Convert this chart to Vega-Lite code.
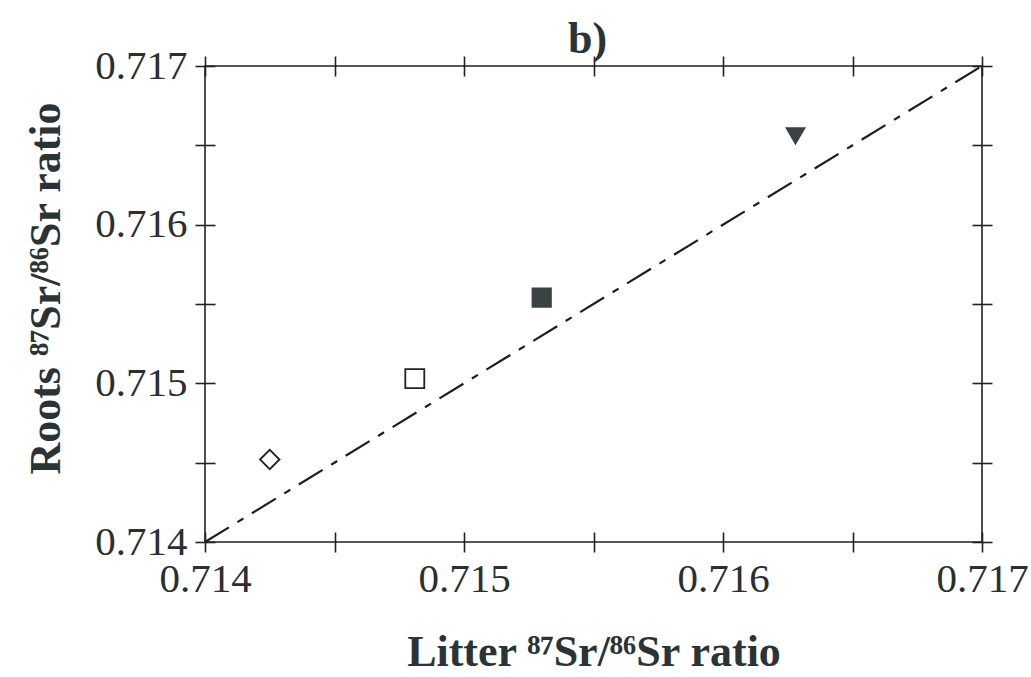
{
  "$schema": "https://vega.github.io/schema/vega-lite/v6.json",
  "width": 777,
  "height": 476,
  "autosize": {"type": "none"},
  "padding": {"left": 205, "top": 66, "right": 49, "bottom": 135},
  "background": "white",
  "title": {"text": "b)", "font": "Liberation Serif", "fontSize": 44, "fontWeight": "bold", "color": "#2a3436", "anchor": "middle", "offset": -17, "dx": -6},
  "config": {
    "view": {"stroke": "#222", "strokeWidth": 1.6},
    "axis": {"domain": false, "grid": false, "tickColor": "#222", "tickWidth": 1.6, "tickSize": 20, "offset": -10,
      "labelFont": "Liberation Serif", "labelFontSize": 41, "labelColor": "#2a2f30",
      "titleFont": "Liberation Serif", "titleFontSize": 44, "titleFontWeight": "bold", "titleColor": "#2a3436"}
  },
  "datasets": {
    "pts": [
      {"sample": "A", "litter": 0.71425, "roots": 0.71452},
      {"sample": "B", "litter": 0.71481, "roots": 0.71503},
      {"sample": "C", "litter": 0.71530, "roots": 0.71554},
      {"sample": "D", "litter": 0.71628, "roots": 0.71656}
    ],
    "oneone": [
      {"litter": 0.714, "roots": 0.714},
      {"litter": 0.717, "roots": 0.717}
    ]
  },
  "layer": [
    {
      "data": {"name": "pts"},
      "mark": {"type": "point", "strokeWidth": 1.8, "opacity": 1, "filled": false},
      "encoding": {
        "x": {"field": "litter", "type": "quantitative", "scale": {"domain": [0.714, 0.717], "nice": false, "zero": false},
          "axis": {"orient": "bottom", "values": [0.714, 0.7145, 0.715, 0.7155, 0.716, 0.7165, 0.717],
            "labelExpr": "round(datum.value*2000) % 2 == 0 ? format(datum.value, '.3f') : ''",
            "labelPadding": 7, "labelFlush": false, "title": "Litter ⁸⁷Sr/⁸⁶Sr ratio", "titlePadding": 31}},
        "y": {"field": "roots", "type": "quantitative", "scale": {"domain": [0.714, 0.717], "nice": false, "zero": false},
          "axis": {"orient": "left", "values": [0.714, 0.7145, 0.715, 0.7155, 0.716, 0.7165, 0.717],
            "labelExpr": "round(datum.value*2000) % 2 == 0 ? format(datum.value, '.3f') : ''",
            "labelPadding": 8, "labelFlush": false, "title": "Roots ⁸⁷Sr/⁸⁶Sr ratio", "titlePadding": 26, "titleY": 222}},
        "shape": {"field": "sample", "type": "nominal", "legend": null,
          "scale": {"domain": ["A", "B", "C", "D"], "range": ["diamond", "square", "square", "triangle-down"]}},
        "fill": {"field": "sample", "type": "nominal", "legend": null,
          "scale": {"domain": ["A", "B", "C", "D"], "range": ["white", "white", "#3a4244", "#3a4244"]}},
        "stroke": {"field": "sample", "type": "nominal", "legend": null,
          "scale": {"domain": ["A", "B", "C", "D"], "range": ["#222", "#222", "#3a4244", "#3a4244"]}},
        "size": {"field": "sample", "type": "nominal", "legend": null,
          "scale": {"domain": ["A", "B", "C", "D"], "range": [380, 320, 290, 560]}}
      }
    },
    {
      "data": {"name": "oneone"},
      "mark": {"type": "line", "color": "#1e1e1e", "strokeWidth": 2.2, "strokeDash": [28, 10, 7, 10]},
      "encoding": {
        "x": {"field": "litter", "type": "quantitative", "scale": {"domain": [0.714, 0.717], "nice": false, "zero": false},
          "axis": {"orient": "top", "values": [0.714, 0.7145, 0.715, 0.7155, 0.716, 0.7165, 0.717], "labels": false, "title": null}},
        "y": {"field": "roots", "type": "quantitative", "scale": {"domain": [0.714, 0.717], "nice": false, "zero": false},
          "axis": {"orient": "right", "values": [0.714, 0.7145, 0.715, 0.7155, 0.716, 0.7165, 0.717], "labels": false, "title": null}}
      }
    }
  ],
  "resolve": {"scale": {"x": "independent", "y": "independent"}, "axis": {"x": "independent", "y": "independent"}}
}
